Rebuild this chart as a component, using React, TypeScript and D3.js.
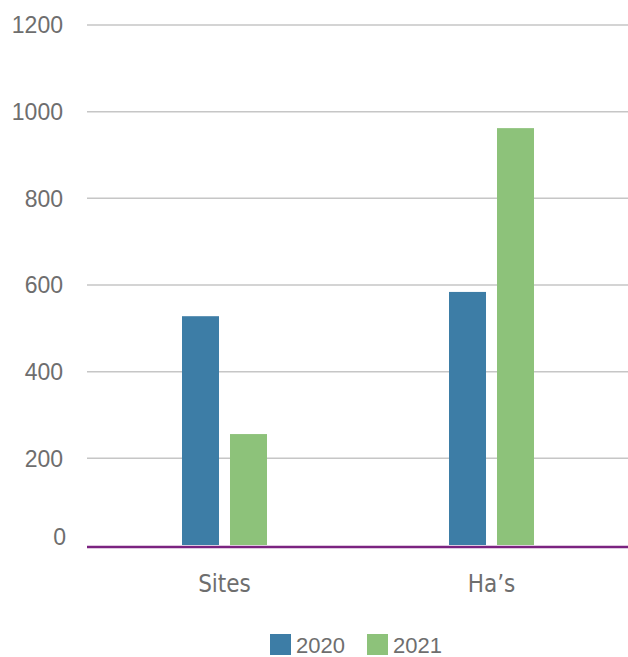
import React from "react";
import * as d3 from "d3";

const categories = ["Sites", "Ha\u2019s"];
const seriesNames = ["2020", "2021"];
const values2020 = [528, 584];
const values2021 = [256, 962];
const yTicks = [0, 200, 400, 600, 800, 1000, 1200];
const colors = ["#3D7DA6", "#8DC27A"];

export default function App() {
  const W = 628;
  const H = 657;
  const y = d3.scaleLinear().domain([0, 1200]).range([545, 25]);
  const x0 = d3.scaleBand<string>().domain(categories).range([91, 625]).padding(0);
  const groupW = 85;
  const x1 = d3.scaleBand<string>().domain(seriesNames).range([0, groupW]).paddingInner(0.229).paddingOuter(0);
  const data = [values2020, values2021];
  const textColor = "#6e6e6e";

  return (
    <svg width={W} height={H} style={{ position: "absolute", left: 0, top: 0, background: "#fff" }}>
      {yTicks.filter((t) => t !== 0).map((t) => (
        <line key={t} x1={87} x2={628} y1={y(t)} y2={y(t)} stroke="#c6c6c6" strokeWidth={1.5} />
      ))}
      {yTicks.map((t) => (
        <text
          key={"l" + t}
          x={t === 0 ? 66 : 63}
          y={t === 0 ? y(t) - 8 : y(t)}
          dy="0.36em"
          textAnchor="end"
          fontFamily="Liberation Sans, Arial, sans-serif"
          fontSize={23}
          fill={textColor}
        >
          {t}
        </text>
      ))}
      {categories.map((c, ci) => {
        const gx = (x0(c) as number) + (x0.bandwidth() - groupW) / 2;
        return (
          <g key={c}>
            {seriesNames.map((s, si) => (
              <rect
                key={s}
                x={gx + (x1(s) as number)}
                y={y(data[si][ci])}
                width={x1.bandwidth()}
                height={y(0) - y(data[si][ci])}
                fill={colors[si]}
              />
            ))}
            <text
              x={(x0(c) as number) + x0.bandwidth() / 2}
              y={592}
              textAnchor="middle"
              fontFamily="DejaVu Sans Condensed, DejaVu Sans, sans-serif"
              fontStretch="condensed"
              fontSize={24}
              fill={textColor}
            >
              {c}
            </text>
          </g>
        );
      })}
      <line x1={87} x2={628} y1={547} y2={547} stroke="#7B2380" strokeWidth={2.5} />
      {seriesNames.map((s, i) => (
        <g key={s} transform={`translate(${270 + i * 97},634)`}>
          <rect x={0} y={0} width={21} height={21} fill={colors[i]} />
          <text
            x={26}
            y={19}
            fontFamily="Liberation Sans, Arial, sans-serif"
            fontSize={22}
            fill={textColor}
          >
            {s}
          </text>
        </g>
      ))}
    </svg>
  );
}
